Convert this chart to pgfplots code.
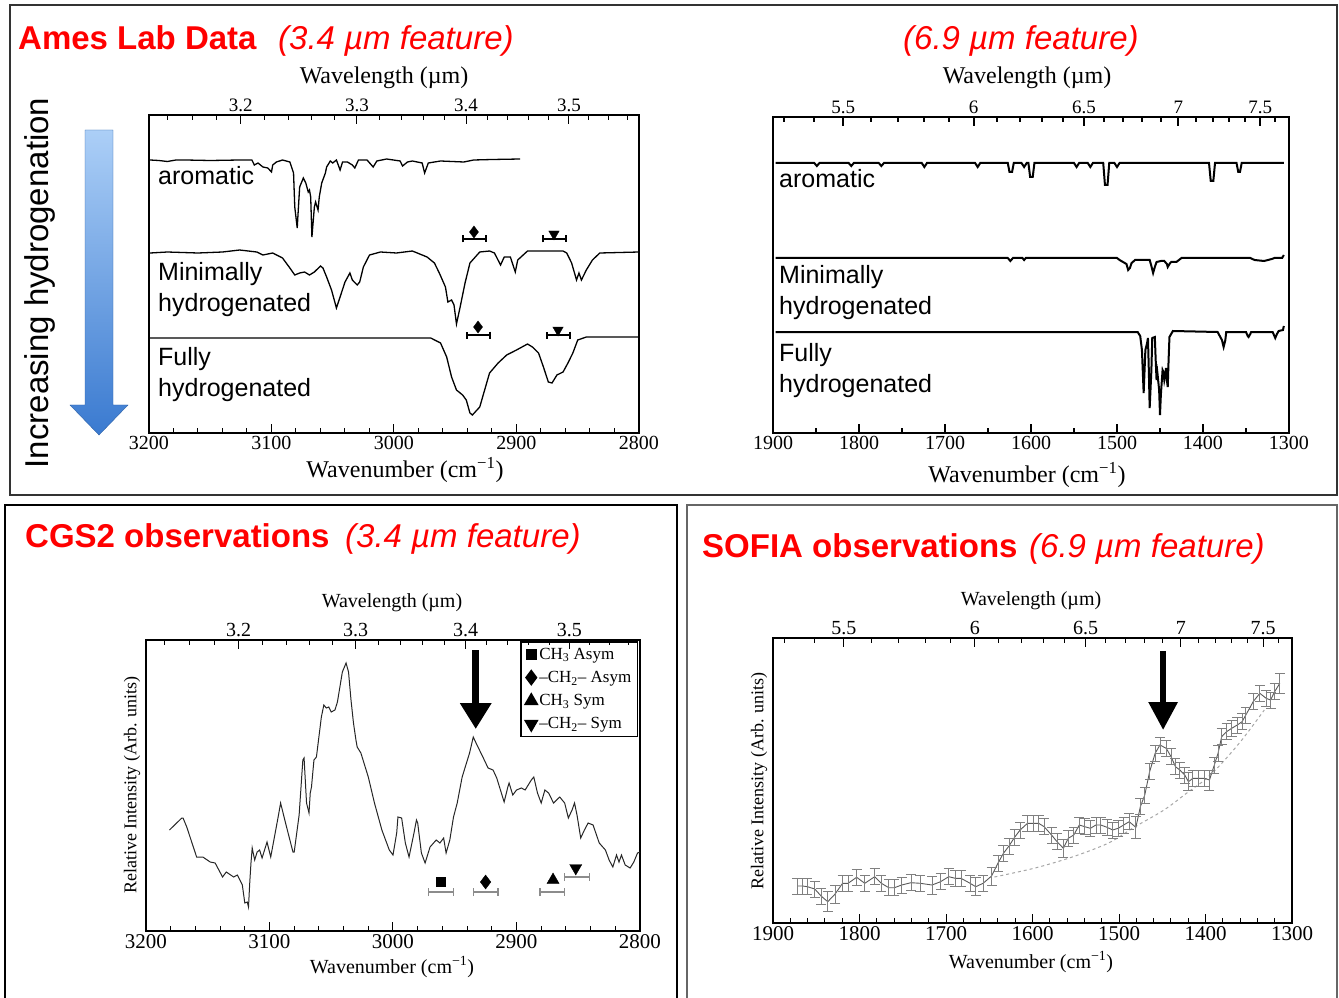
\documentclass[border=0pt]{standalone}
\usepackage{fontspec}
\setmainfont{Liberation Serif}
\newfontfamily\arial{Liberation Sans}
\usepackage{pgfplots}
\usepackage{pgfplotstable}
\pgfplotsset{compat=1.18}
\usetikzlibrary{arrows.meta}
\definecolor{tred}{RGB}{255,0,0}
\definecolor{abluelight}{RGB}{172,207,247}
\definecolor{abluedark}{RGB}{58,122,208}
\newcommand{\fs}[1]{\fontsize{#1}{#1}\selectfont}

\pgfplotsset{
  panel/.style={scale only axis, anchor=south west, x dir=reverse, y dir=reverse,
    ytick=\empty, tick align=inside, major tick length=9pt, minor tick length=5pt,
    tick style={black, line width=1pt}, /pgf/number format/assume math mode=true, clip=false},
  bottomticks/.style={xtick pos=left, xticklabel style={font=\fs{#1}, inner sep=3pt}},
  topaxis/.style={axis x line*=top, axis y line=none, ymin=0, ymax=1,
    xticklabel style={font=\fs{#1}, inner sep=3pt}},
}

\pgfplotstableread{
x y e
1871.8 886 8
1865.8 886 8
1860.2 886.7 8
1851.7 889 8
1844.4 896 8
1836.7 901.7 10
1828.2 894 9
1819.6 883.3 8
1813.2 883.3 8
1803.3 877.3 8
1793.9 883.3 8
1782.4 876.7 8
1774.7 883.3 8
1766.1 887.7 8
1759.7 887.7 8
1751.2 885 8
1740.5 882.7 8
1729.8 883.3 8
1716.1 885 9
1706.3 881.7 8
1696.9 876.7 8
1689.2 878.3 8
1682.7 878.3 8
1672.1 883.3 8
1665.6 886.7 9
1657.1 883.3 8
1647.3 876 9
1640.0 863.3 8
1633.6 853.3 8
1627.2 846 8
1620.7 837.3 8
1614.3 830 8
1605.8 823.3 8
1599.4 823.3 8
1592.9 823.3 8
1586.5 826.7 8
1578.0 835 8
1571.6 841.7 8
1564.3 848.3 9
1558.7 838.3 8
1552.3 835 8
1545.9 825 8
1539.5 826.7 8
1533.1 828.3 8
1526.7 825 8
1521.1 825 8
1513.8 827.3 8
1507.4 830 8
1501.0 828.3 8
1494.6 825 8
1488.2 821.7 8
1480.5 827.3 11
1475.3 806.7 8
1470.2 795 8
1464.6 771.7 8
1458.2 753.3 8
1452.7 745 8
1445.4 748.3 8
1439.8 756.7 8
1434.7 766.7 8
1429.6 770 8
1424.0 775 8
1419.7 781.7 9
1414.6 778.3 8
1408.2 778.3 8
1401.3 778.3 8
1395.4 780 10
1389.8 765 8
1385.5 753.3 8
1381.3 736.7 8
1375.7 731.7 8
1369.7 728.3 8
1363.3 725 8
1357.7 721.7 8
1353.4 715 8
1344.9 701.7 8
1337.2 693.3 8
1329.9 698.3 8
1324.8 700 8
1320.1 691.7 8
1314.1 683.3 10
}\sofia

\begin{document}
\begin{tikzpicture}
\begin{scope}[x=1pt,y=1pt]
\path[use as bounding box] (0,0) rectangle (1339,997);
% frames
\draw[line width=1.5pt, black!80] (10,992) rectangle (1337,502);
\draw[line width=2pt, black] (5,-10) -- (5,492) -- (677,492) -- (677,-10);
\draw[line width=1.2pt, black!60] (687,-10) -- (687,492) -- (1337,492) -- (1337,-10);
% blue arrow
\shade[top color=abluelight, bottom color=abluedark] (85,867) -- (113,867) -- (113,592) -- (128,592) -- (99,562) -- (70,592) -- (85,592) -- cycle;
\draw[abluedark!80!black, line width=0.4pt] (85,867) -- (113,867) -- (113,592) -- (128,592) -- (99,562) -- (70,592) -- (85,592) -- cycle;
\end{scope}

%================ TOP LEFT ================
\begin{axis}[panel, bottomticks=20, at={(149pt,564pt)}, width=490pt, height=318pt,
  xmin=2800, xmax=3200, ymin=115, ymax=433,
  xtick={3200,3100,3000,2900,2800}, xticklabels={3200,3100,3000,2900,2800},
  minor x tick num=4, axis line style={line width=1.4pt}]
% aromatic
\addplot[black, line width=1.3pt] coordinates {(3199,160)(3192,160.5)(3185,161.5)(3178,160)(3170,160)(3150,160.5)(3126,160)(3116,160)(3114,165)(3111,163)(3107,167)(3103,168)(3100,172)(3099,165)(3096,162)(3091,160)(3085,162)(3082,173)(3081,207)(3079,228)(3078,207)(3077,187)(3074,178)(3072,183)(3070,192)(3069,190)(3068,197)(3067,237)(3065,207)(3064,202)(3062,210)(3061,197)(3059,183)(3056,173)(3055,167)(3052,161)(3050,163)(3047,160)(3044,170)(3042,162)(3038,162)(3034,165)(3032,168)(3029,160)(3022,160)(3017,167)(3014,161)(3006,159)(2995,161)(2993,166)(2989,162)(2985,161)(2977,163)(2975,173)(2972,163)(2962,161)(2943,162)(2935,160)(2920,159.5)(2897,159)};
% minimally hydrogenated
\addplot[black, line width=1.3pt] coordinates {(3199,253)(3185,252)(3160,253)(3140,252)(3126,250)(3112,252)(3107,255)(3099,253)(3091,258)(3085,268)(3081,275)(3077,273)(3073,272)(3069,275)(3065,272)(3060,266)(3058,268)(3055,277)(3051,290)(3047,308)(3044,297)(3040,282)(3036,273)(3034,280)(3030,285)(3028,282)(3025,267)(3020,255)(3011,252)(2998,253)(2985,251)(2973,257)(2967,263)(2963,273)(2958,287)(2956,302)(2953,300)(2951,305)(2949,324)(2946,307)(2942,283)(2938,263)(2930,252)(2922,251)(2918,253)(2913,265)(2910,257)(2905,257)(2901,272)(2899,260)(2891,251)(2880,251)(2862,251)(2859,253)(2855,263)(2851,280)(2849,273)(2847,280)(2843,270)(2838,260)(2832,253)(2800,252)};
% fully hydrogenated
\addplot[black, line width=1.3pt] coordinates {(3199,338)(3000,338)(2970,338)(2962,343)(2957,357)(2953,377)(2949,390)(2944,395)(2941,400)(2938,413)(2936,415)(2930,407)(2926,390)(2922,373)(2915,363)(2908,355)(2900,350)(2891,344)(2887,347)(2882,353)(2878,367)(2874,382)(2871,383)(2867,375)(2862,372)(2858,363)(2854,353)(2850,340)(2843,337)(2800,337)};
% markers with ranges
\addplot[black, draw=none, mark=none, error bars/.cd, x dir=both, x explicit,
  error bar style={draw=black, line width=1.2pt}, error mark options={rotate=90, mark size=3.5pt, draw=black, line width=1.2pt}]
  coordinates {(2934.3,239) +- (9.4,0) (2869,239) +- (9.4,0) (2931,335) +- (9.4,0) (2865.7,335) +- (9.4,0)};
\addplot[black, only marks, mark=diamond*, mark size=6pt] coordinates {(2934.7,232)(2931.4,327)};
\addplot[black, only marks, mark=triangle*, mark size=6pt, mark options={rotate=180}] coordinates {(2869.4,234)(2866.1,330)};
\end{axis}
\begin{axis}[panel, topaxis=19, at={(149pt,564pt)}, width=490pt, height=318pt,
  xmin=2800, xmax=3200,
  xtick={3125,3030.303,2941.176,2857.143}, xticklabels={3.2,3.3,3.4,3.5},
  minor xtick={3184.7,3164.6,3144.7,3105.6,3086.4,3067.5,3048.8,3012.0,2994.0,2976.2,2958.6,2924.0,2907.0,2890.2,2873.6,2840.9,2824.9,2809.0},
  axis line style={line width=1.4pt}]
\addplot[draw=none] coordinates {(3000,0.5)};
\end{axis}

%================ TOP RIGHT ================
\begin{axis}[panel, bottomticks=20, at={(773pt,564pt)}, width=516pt, height=316pt,
  xmin=1300, xmax=1900, ymin=117, ymax=433,
  xtick={1900,1800,1700,1600,1500,1400,1300}, xticklabels={1900,1800,1700,1600,1500,1400,1300},
  minor x tick num=1, axis line style={line width=2.5pt}, tick style={line width=2pt}]
\addplot[black, line width=2pt] coordinates {(1897,163)(1852,163)(1849,166)(1846,163)(1812,163)(1809,166)(1806,163)(1777,163)(1774,166)(1771,163)(1727,163)(1724,167)(1721,163)(1665,163)(1662,167)(1659,163)(1627,163)(1625,172)(1622,172)(1620,163)(1611,163)(1608,167)(1605,163)(1603,163)(1601,177)(1598,177)(1596,163)(1550,163)(1547,167)(1544,163)(1534,163)(1531,167)(1528,163)(1516,163)(1514,185)(1511,185)(1509,163)(1503,163)(1500,167)(1497,163)(1393,163)(1391,181)(1388,181)(1386,163)(1361,163)(1359,172)(1357,172)(1355,163)(1306,163)};
\addplot[black, line width=2pt] coordinates {(1897,258)(1627,258)(1624,261)(1621,258)(1610,258)(1608,260)(1606,258)(1500,258)(1497,260)(1493,262)(1489,264)(1487,270)(1485,268)(1483,263)(1479,260)(1462,260)(1460,266)(1458,273)(1456,267)(1454,262)(1449,261)(1445,261)(1442,264)(1441,267)(1439,264)(1437,262)(1431,262)(1425,258)(1345,258)(1340,260)(1329,261)(1320,259)(1317,258)(1308,258)(1306,255)};
\addplot[black, line width=2pt] coordinates {(1897,332)(1476,332)(1473,336)(1471,350)(1469,393)(1467,350)(1465,343)(1464,338)(1463,370)(1462,408)(1460,370)(1459,338)(1456,337)(1455,360)(1454,380)(1453,373)(1451,390)(1450,415)(1449,395)(1447,370)(1446,372)(1445,380)(1444,375)(1443,368)(1442,380)(1441,387)(1440,360)(1439,337)(1435,331)(1383,332)(1378,340)(1376,347)(1374,340)(1373,332)(1350,332)(1348,336)(1347,337)(1345,334)(1344,332)(1319,332)(1317,336)(1316,338)(1314,334)(1312,331)(1307,330)(1306,326)};
\end{axis}
\begin{axis}[panel, topaxis=19, at={(773pt,564pt)}, width=516pt, height=316pt,
  xmin=1300, xmax=1900,
  xtick={1818.18,1666.67,1538.46,1428.57,1333.33}, xticklabels={5.5,6,6.5,7,7.5},
  minor xtick={1886.8,1851.9,1785.7,1754.4,1724.1,1694.9,1639.3,1612.9,1587.3,1562.5,1515.2,1492.5,1470.6,1449.3,1408.5,1388.9,1369.9,1351.4,1315.8},
  axis line style={line width=2.5pt}, tick style={line width=2pt}]
\addplot[draw=none] coordinates {(1600,0.5)};
\end{axis}

%================ BOTTOM LEFT ================
\begin{axis}[panel, bottomticks=21, at={(146pt,66pt)}, width=494pt, height=291pt,
  xmin=2800, xmax=3200, ymin=640, ymax=931,
  xtick={3200,3100,3000,2900,2800}, xticklabels={3200,3100,3000,2900,2800},
  minor x tick num=4, axis line style={line width=1.4pt},
  legend style={at={(0.996,0.996)}, anchor=north east, draw=black, line width=1.5pt,
    font=\fs{17}, inner xsep=4pt, inner ysep=4pt, row sep=6.5pt, fill=white},
  legend cell align=left,
  legend image code/.code={\draw[mark repeat=2,mark phase=2,#1] plot coordinates {(0pt,0pt)(5pt,0pt)(10pt,0pt)};}]
\addplot[black!85, line width=1pt, forget plot] coordinates {(3181,830)(3171,818)(3170,818)(3167,827)(3159,857)(3154,857)(3148,862)(3144,863)(3138,877)(3135,872)(3129,877)(3126,875)(3124,880)(3122,885)(3120,903)(3118,902)(3117,907)(3116,883)(3115,863)(3114,848)(3112,860)(3110,852)(3108,850)(3106,858)(3102,842)(3101,847)(3099,857)(3093,817)(3091,803)(3087,823)(3081,852)(3080,852)(3076,815)(3073,760)(3072,758)(3070,803)(3068,813)(3067,793)(3066,787)(3064,760)(3062,757)(3058,717)(3056,705)(3054,708)(3052,707)(3050,712)(3047,710)(3045,702)(3041,672)(3038,663)(3036,672)(3034,700)(3032,723)(3030,740)(3029,747)(3026,753)(3020,777)(3015,803)(3009,830)(3003,850)(3000,855)(2997,833)(2996,817)(2993,818)(2990,843)(2987,857)(2983,833)(2981,820)(2980,823)(2977,853)(2974,863)(2970,847)(2965,840)(2962,843)(2959,838)(2957,853)(2954,840)(2951,817)(2948,803)(2944,777)(2938,753)(2935,737)(2932,745)(2928,755)(2923,768)(2919,770)(2916,778)(2913,790)(2910,802)(2907,787)(2906,783)(2903,795)(2900,790)(2896,788)(2893,790)(2888,780)(2886,777)(2883,793)(2880,803)(2877,790)(2874,793)(2870,803)(2865,797)(2861,803)(2858,818)(2855,810)(2853,803)(2851,815)(2848,838)(2845,830)(2842,823)(2838,825)(2833,843)(2828,850)(2825,860)(2822,867)(2819,855)(2817,862)(2815,855)(2812,865)(2808,868)(2805,862)(2802,853)(2800,852)};
\addplot[black!45, draw=none, mark=none, forget plot, error bars/.cd, x dir=both, x explicit,
  error bar style={draw=black!45, line width=1.3pt}, error mark options={rotate=90, mark size=4pt, draw=black!45, line width=1.3pt}]
  coordinates {(2961,892) +- (10,0) (2925,892) +- (10,0) (2871,892) +- (10,0) (2851,877) +- (10,0)};
\addplot[black, only marks, mark=square*, mark size=4.5pt] coordinates {(2961,882)};
\addlegendentry{CH\textsubscript{3} Asym}
\addplot[black, only marks, mark=diamond*, mark size=7pt] coordinates {(2925,882)};
\addlegendentry{–CH\textsubscript{2}– Asym}
\addplot[black, only marks, mark=triangle*, mark size=7pt] coordinates {(2870.4,880)};
\addlegendentry{CH\textsubscript{3} Sym}
\addplot[black, only marks, mark=triangle*, mark size=7pt, mark options={rotate=180}] coordinates {(2852,868)};
\addlegendentry{–CH\textsubscript{2}– Sym}
\draw[black, line width=6.5pt, -{Triangle[width=30pt,length=26pt]}] (axis cs:2933,650) -- (axis cs:2933,729);
\end{axis}
\begin{axis}[panel, topaxis=20, at={(146pt,66pt)}, width=494pt, height=291pt,
  xmin=2800, xmax=3200,
  xtick={3125,3030.303,2941.176,2857.143}, xticklabels={3.2,3.3,3.4,3.5},
  minor xtick={3184.7,3164.6,3144.7,3105.6,3086.4,3067.5,3048.8,3012.0,2994.0,2976.2,2958.6,2924.0,2907.0,2890.2,2873.6,2840.9,2824.9,2809.0},
  axis line style={line width=1.4pt}]
\addplot[draw=none] coordinates {(3000,0.5)};
\end{axis}

%================ BOTTOM RIGHT ================
\begin{axis}[panel, bottomticks=21, at={(773pt,74pt)}, width=519pt, height=285pt,
  xmin=1300, xmax=1900, ymin=638, ymax=923,
  xtick={1900,1800,1700,1600,1500,1400,1300}, xticklabels={1900,1800,1700,1600,1500,1400,1300},
  minor x tick num=4, axis line style={line width=1.4pt}]
\addplot[black!35, dashed, line width=1pt, smooth] coordinates {(1644,877)(1597,868)(1554,857)(1512,843)(1482,827)(1448,810)(1420,792)(1401,780)(1383,765)(1358,740)(1332,710)};
\addplot[black!65, line width=0.9pt, mark=none, error bars/.cd, y dir=both, y explicit,
  error bar style={black!50, line width=0.8pt}, error mark options={rotate=90, mark size=5pt, black!50, line width=0.8pt}]
  table[x=x, y=y, y error=e] {\sofia};
\draw[black, line width=6pt, -{Triangle[width=28pt,length=28pt]}] (axis cs:1449,651) -- (axis cs:1449,730);
\end{axis}
\begin{axis}[panel, topaxis=20, at={(773pt,74pt)}, width=519pt, height=285pt,
  xmin=1300, xmax=1900,
  xtick={1818.18,1666.67,1538.46,1428.57,1333.33}, xticklabels={5.5,6,6.5,7,7.5},
  minor xtick={1886.8,1851.9,1785.7,1754.4,1724.1,1694.9,1639.3,1612.9,1587.3,1562.5,1515.2,1492.5,1470.6,1449.3,1408.5,1388.9,1369.9,1351.4,1315.8},
  axis line style={line width=1.4pt}]
\addplot[draw=none] coordinates {(1600,0.5)};
\end{axis}

%================ TEXT ================
\begin{scope}[x=1pt,y=1pt, every node/.style={inner sep=0pt}]
% titles
\node[anchor=base west, text=tred] at (18,947) {\arial\bfseries\fs{33}Ames Lab Data};
\node[anchor=base west, text=tred] at (278,947) {\arial\itshape\fs{33}(3.4 µm feature)};
\node[anchor=base west, text=tred] at (903,947) {\arial\itshape\fs{33}(6.9 µm feature)};
\node[anchor=base west, text=tred] at (25,449) {\arial\bfseries\fs{33}CGS2 observations};
\node[anchor=base west, text=tred] at (345,449) {\arial\itshape\fs{33}(3.4 µm feature)};
\node[anchor=base west, text=tred] at (702,439) {\arial\bfseries\fs{33}SOFIA observations};
\node[anchor=base west, text=tred] at (1029,439) {\arial\itshape\fs{33}(6.9 µm feature)};
% increasing hydrogenation
\node[rotate=90] at (40,714) {\arial\fs{33}Increasing hydrogenation};
% curve labels
\node[anchor=base west] at (158,812) {\arial\fs{25}aromatic};
\node[anchor=base west] at (158,716) {\arial\fs{25}Minimally};
\node[anchor=base west] at (158,685) {\arial\fs{25}hydrogenated};
\node[anchor=base west] at (158,631) {\arial\fs{25}Fully};
\node[anchor=base west] at (158,600) {\arial\fs{25}hydrogenated};
\node[anchor=base west] at (779,809) {\arial\fs{25}aromatic};
\node[anchor=base west] at (779,713) {\arial\fs{25}Minimally};
\node[anchor=base west] at (779,682) {\arial\fs{25}hydrogenated};
\node[anchor=base west] at (779,635) {\arial\fs{25}Fully};
\node[anchor=base west] at (779,604) {\arial\fs{25}hydrogenated};
% axis labels
\node at (384,919) {\fs{24}Wavelength (µm)};
\node at (405,527) {\fs{24}Wavenumber (cm\textsuperscript{−1})};
\node at (1027,919) {\fs{24}Wavelength (µm)};
\node at (1027,522) {\fs{24}Wavenumber (cm\textsuperscript{−1})};
\node at (392,394) {\fs{20}Wavelength (µm)};
\node at (392,30) {\fs{20}Wavenumber (cm\textsuperscript{−1})};
\node[rotate=90] at (132,212) {\fs{18}Relative Intensity (Arb. units)};
\node at (1031,396) {\fs{20}Wavelength (µm)};
\node at (1031,35) {\fs{20}Wavenumber (cm\textsuperscript{−1})};
\node[rotate=90] at (759,216) {\fs{18}Relative Intensity (Arb. units)};
\end{scope}
\end{tikzpicture}
\end{document}
